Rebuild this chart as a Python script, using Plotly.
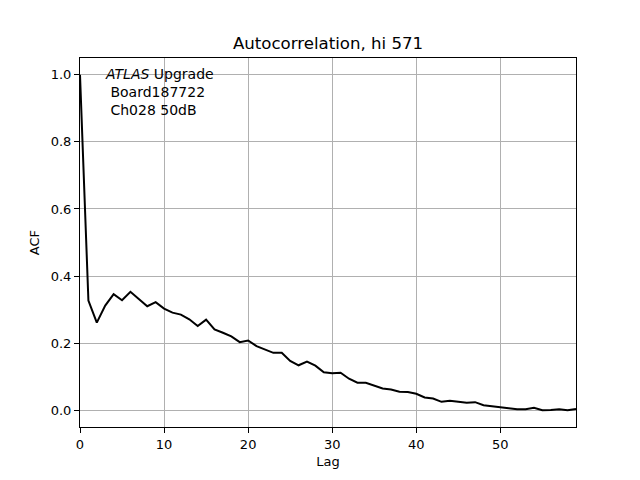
import plotly.graph_objects as go

# Valeurs de l'autocorrélation
lags = list(range(60))
acf = [1.0, 0.327, 0.261, 0.312, 0.346, 0.328, 0.353, 0.332, 0.310, 0.322,
       0.303, 0.291, 0.285, 0.271, 0.251, 0.270, 0.241, 0.231, 0.220, 0.203,
       0.208, 0.191, 0.181, 0.171, 0.171, 0.147, 0.134, 0.145, 0.133, 0.113,
       0.110, 0.112, 0.094, 0.082, 0.082, 0.073, 0.065, 0.062, 0.055, 0.054,
       0.049, 0.038, 0.035, 0.025, 0.028, 0.025, 0.022, 0.024, 0.015, 0.012,
       0.010, 0.006, 0.003, 0.003, 0.007, 0.000, 0.001, 0.003, 0.000, 0.004]

x_ticks = [0, 10, 20, 30, 40, 50]
y_ticks = [0.0, 0.2, 0.4, 0.6, 0.8, 1.0]

title = "Autocorrelation, hi 571"
label_lines = ["<i>ATLAS</i> Upgrade", " Board187722", " Ch028 50dB"]

fig = go.Figure()
fig.add_trace(go.Scatter(x=lags, y=acf, mode='lines',
                         line=dict(color='black', width=2), showlegend=False))

axis_style = dict(showline=True, linecolor='black', linewidth=1, mirror=True,
                  ticks='outside', ticklen=5, tickcolor='black', tickwidth=1,
                  showgrid=True, gridcolor='#b0b0b0', gridwidth=1, zeroline=False,
                  tickfont=dict(size=13, color='black'))

# la page ajoute 8px de marge au body : on compense
fig.update_layout(
    width=640, height=480,
    margin=dict(l=72, r=72, t=50, b=61),
    paper_bgcolor='white', plot_bgcolor='white',
    font=dict(family='DejaVu Sans', color='black'),
    title=dict(text=title, x=0.5, xanchor='center', y=1 - 35 / 480, yanchor='middle',
               font=dict(size=16.6)),
    xaxis=dict(range=[0, 59], tickvals=x_ticks,
               title=dict(text='Lag', font=dict(size=13), standoff=6), **axis_style),
    yaxis=dict(range=[-0.05, 1.05], tickvals=y_ticks, tickformat='.1f',
               title=dict(text='ACF', font=dict(size=13), standoff=8), **axis_style),
)

fig.add_annotation(text='<br>'.join(label_lines), xref='paper', yref='paper',
                   x=0.046, y=0.984, xanchor='left', yanchor='top', align='left',
                   showarrow=False, font=dict(size=14, color='black'))

fig.write_html("out.html")
